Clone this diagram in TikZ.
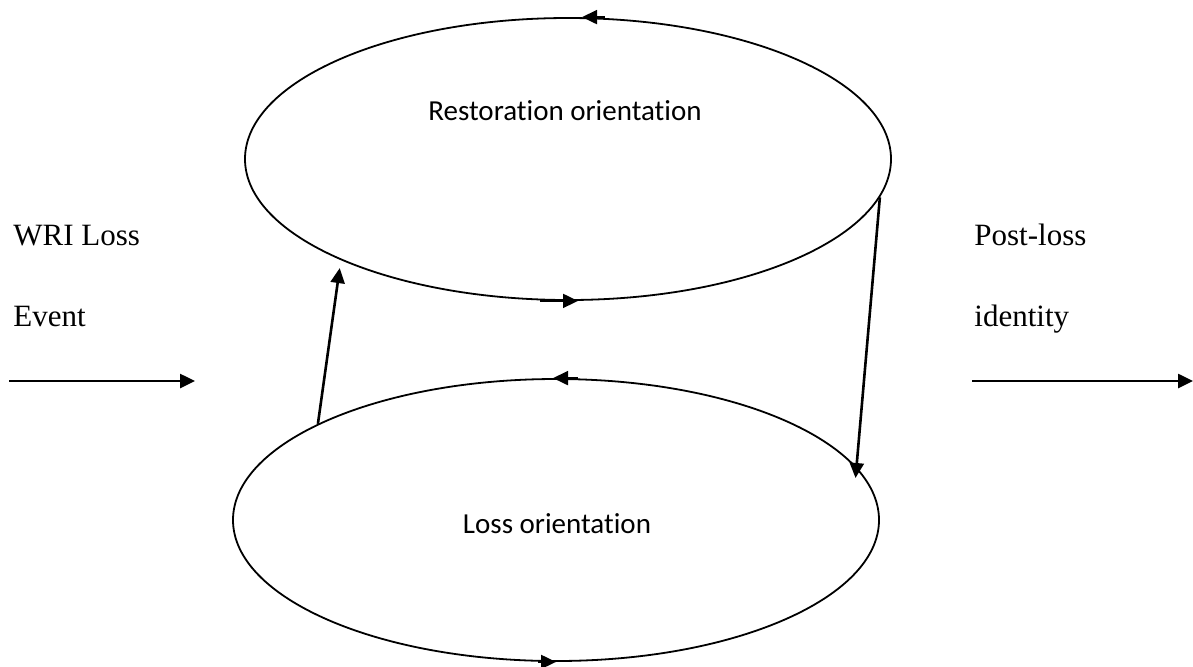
\documentclass[tikz,border=0pt]{standalone}
\usepackage{fontspec}
\setmainfont{Liberation Serif}
\newfontfamily\calibri{Carlito}[Ligatures=NoCommon]
\usetikzlibrary{calc, positioning, shapes.geometric, arrows.meta}

\begin{document}
\begin{tikzpicture}[
        x=0.5pt, y=-0.5pt,
        orient/.style={
            ellipse, draw=black, line width=0.9pt,
            minimum width=323pt, minimum height=141pt,
            inner sep=0pt
        },
        line/.style={draw, line width=1.3pt, -{Triangle[length=7.5pt, width=7pt]}},
        head/.style={draw, line width=0.9pt, -{Triangle[length=7.5pt, width=7pt]}},
        lbl/.style={font=\calibri\fontsize{14.5}{17}\selectfont, anchor=base},
        side/.style={font=\fontsize{15.5}{18}\selectfont, anchor=base west, inner sep=0pt}
    ]
    \useasboundingbox (0,0) rectangle (1193,666);

    \node [orient] (restore) at (568,159) {};
    \node [orient] (loss) at (556,520) {};
    \node [lbl] (restoreText) at (565,120) {Restoration orientation};
    \node [lbl] (lossText) at (557,533) {Loss orientation};

    \node [side] (wri) at (13,245) {WRI Loss};
    \node [side] (event) at (13,326) {Event};
    \node [side] (post) at (974,245) {Post-loss};
    \node [side] (ident) at (974,326) {identity};

    \coordinate (inStart) at (9,381);
    \coordinate (inEnd) at (195,381);
    \coordinate (outStart) at (972,381);
    \coordinate (outEnd) at (1193,381);

    \draw [line] (inStart) -- (inEnd);
    \draw [line] (outStart) -- (outEnd);

    % oscillation between the two orientations
    \draw [line, shorten >=4pt] (loss.158.6) -- (restore.204);
    \draw [line, shorten >=-5.5pt] (restore.-7) -- (loss.10);

    % direction marks on the ellipses
    \draw [head] ([xshift=18.5pt]restore.north) -- ([xshift=7pt]restore.north);
    \draw [head] ([xshift=-14pt]restore.south) -- ([xshift=5pt]restore.south);
    \draw [head] ([xshift=11pt]loss.north) -- ([xshift=-1.5pt]loss.north);
    \draw [head] ([xshift=-9pt]loss.south) -- ([xshift=0pt]loss.south);

\end{tikzpicture}
\end{document}
